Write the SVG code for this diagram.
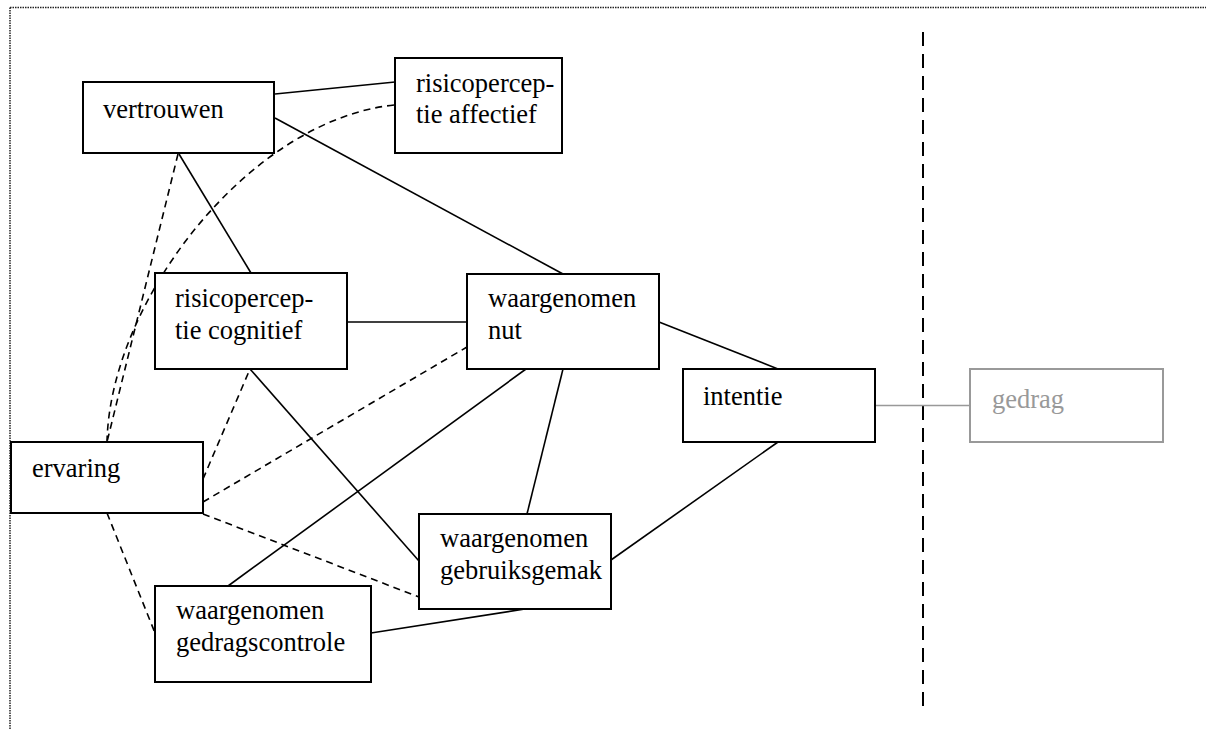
<svg xmlns="http://www.w3.org/2000/svg" width="1206" height="729" viewBox="0 0 1206 729">
  <style>
    .box { fill: #fff; stroke: #000; stroke-width: 2; }
    .box.grey { stroke: #999; }
    .lbl { font-size: 26.5px; fill: #000; }
    .lbl.grey { fill: #999; }
    .solid { fill: none; stroke: #000; stroke-width: 1.6; }
    .dash { fill: none; stroke: #000; stroke-width: 1.6; stroke-dasharray: 7 5; }
    .frame { fill: none; stroke: #222; stroke-width: 1.5; stroke-dasharray: 1.5 1; }
  </style>
  <rect width="1206" height="729" fill="#fff"/>

  <!-- dotted frame -->
  <path class="frame" d="M10 7.5 H1206 M10 7.5 V729"/>

  <!-- boundary between intention and behaviour -->
  <line x1="923" y1="32" x2="923" y2="708" stroke="#000" stroke-width="2" stroke-dasharray="14 8"/>

  <g id="connectors">
    <line class="solid" x1="275" y1="94" x2="395" y2="82"/>
    <line class="solid" x1="275" y1="118" x2="563" y2="274"/>
    <line class="solid" x1="179" y1="154" x2="251" y2="273"/>
    <line class="solid" x1="347" y1="322" x2="467" y2="322"/>
    <line class="solid" x1="659" y1="322" x2="778" y2="369"/>
    <line class="solid" x1="250" y1="369" x2="419" y2="561"/>
    <line class="solid" x1="526" y1="369" x2="228" y2="586"/>
    <line class="solid" x1="563" y1="369" x2="527" y2="514"/>
    <line class="solid" x1="778" y1="442" x2="611" y2="560"/>
    <line class="solid" x1="371" y1="633" x2="525" y2="609"/>
    <line x1="875" y1="405.5" x2="970" y2="405.5" stroke="#999" stroke-width="1.6"/>

    <line class="dash" x1="178" y1="154" x2="107" y2="442"/>
    <path class="dash" d="M394 105 C250 120 110 300 107 442"/>
    <line class="dash" x1="107" y1="513" x2="155" y2="633"/>
    <line class="dash" x1="203" y1="479" x2="250" y2="369"/>
    <line class="dash" x1="203" y1="502" x2="467" y2="347"/>
    <line class="dash" x1="203" y1="514" x2="419" y2="597"/>
  </g>

  <g font-family="'Times New Roman', 'Liberation Serif', Tinos, serif">
    <g id="vertrouwen">
      <rect class="box" x="83" y="82" width="191" height="71"/>
      <text class="lbl" x="103" y="118">vertrouwen</text>
    </g>

    <g id="risicoperceptie-affectief">
      <rect class="box" x="395" y="58" width="167" height="95"/>
      <text class="lbl" x="416" y="92">risicopercep-</text>
      <text class="lbl" x="416" y="123">tie affectief</text>
    </g>

    <g id="risicoperceptie-cognitief">
      <rect class="box" x="155" y="273" width="192" height="96"/>
      <text class="lbl" x="175" y="307">risicopercep-</text>
      <text class="lbl" x="175" y="339">tie cognitief</text>
    </g>

    <g id="waargenomen-nut">
      <rect class="box" x="467" y="274" width="192" height="95"/>
      <text class="lbl" x="488" y="307">waargenomen</text>
      <text class="lbl" x="488" y="339">nut</text>
    </g>

    <g id="intentie">
      <rect class="box" x="683" y="369" width="192" height="73"/>
      <text class="lbl" x="703" y="405">intentie</text>
    </g>

    <g id="gedrag">
      <rect class="box grey" x="970" y="369" width="193" height="73"/>
      <text class="lbl grey" x="992" y="408">gedrag</text>
    </g>

    <g id="ervaring">
      <rect class="box" x="11" y="442" width="192" height="71"/>
      <text class="lbl" x="32" y="477">ervaring</text>
    </g>

    <g id="waargenomen-gebruiksgemak">
      <rect class="box" x="419" y="514" width="192" height="95"/>
      <text class="lbl" x="440" y="547">waargenomen</text>
      <text class="lbl" x="440" y="579">gebruiksgemak</text>
    </g>

    <g id="waargenomen-gedragscontrole">
      <rect class="box" x="155" y="586" width="216" height="96"/>
      <text class="lbl" x="176" y="619">waargenomen</text>
      <text class="lbl" x="176" y="651">gedragscontrole</text>
    </g>
  </g>
</svg>
